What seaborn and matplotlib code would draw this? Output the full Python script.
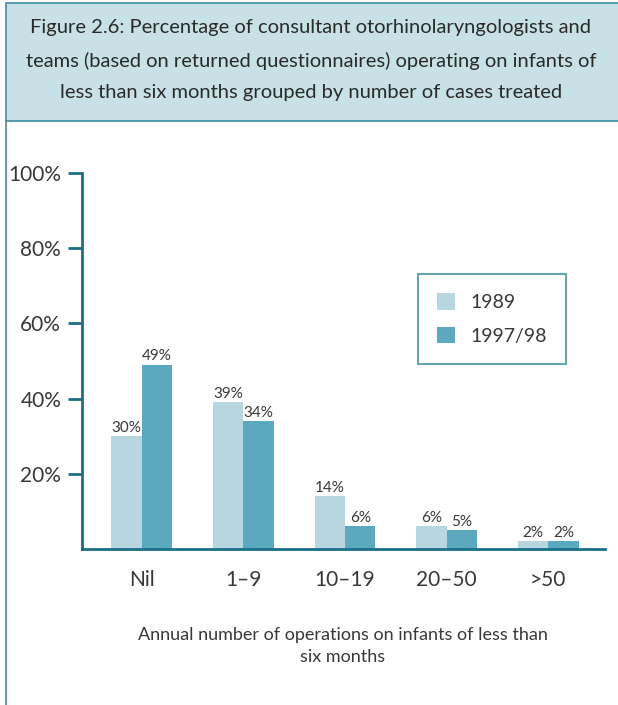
import pandas as pd
import matplotlib
matplotlib.use('Agg')
import matplotlib.pyplot as plt
import matplotlib.patches as mpatches
import seaborn as sns

categories = ['Nil', '1–9', '10–19', '20–50', '>50']
years = ['1989', '1997/98']
values_1989 = [30, 39, 14, 6, 2]
values_1997 = [49, 34, 6, 5, 2]
yticks = [20, 40, 60, 80, 100]
title = ('Figure 2.6: Percentage of consultant otorhinolaryngologists and\n'
         'teams (based on returned questionnaires) operating on infants of\n'
         'less than six months grouped by number of cases treated')
xlabel = 'Annual number of operations on infants of less than\nsix months'

df = pd.DataFrame({
    'category': categories * 2,
    'year': [years[0]] * len(categories) + [years[1]] * len(categories),
    'value': values_1989 + values_1997,
})

sns.set_theme(style='white')
plt.rcParams['font.family'] = ['Lato', 'DejaVu Sans']

teal = '#1b6f86'
text_col = '#383838'
palette = {'1989': '#b7d6e0', '1997/98': '#5ba8bf'}

W, H = 618, 705
fig = plt.figure(figsize=(W / 100, H / 100), dpi=100)

# frame: title box and left rule
fig.add_artist(mpatches.Rectangle((6 / W, (H - 121) / H), 1.0, 118 / H,
                                  transform=fig.transFigure, facecolor='#c8e1e7',
                                  edgecolor='#3f8fa4', linewidth=1.2))
fig.add_artist(plt.Line2D([6 / W, 6 / W], [0, (H - 121) / H], transform=fig.transFigure,
                          color='#3f8fa4', linewidth=1.2))
fig.text(311 / W, (H - 60) / H, title, ha='center', va='center', fontsize=14.5,
         color='#2a2a2a', linespacing=2.0)

ax = fig.add_axes([82 / W, (H - 549) / H, (605 - 82) / W, (549 - 173) / H])
sns.barplot(data=df, x='category', y='value', hue='year', palette=palette,
            width=0.6, saturation=1, linewidth=0, ax=ax)

ax.set_ylim(0, 100)
ax.set_xlim(-0.59, 4.56)
ax.set_yticks(yticks)
ax.set_yticklabels([f'{v}%' for v in yticks])
ax.set_xlabel('')
ax.set_ylabel('')
for s in ['top', 'right']:
    ax.spines[s].set_visible(False)
for s in ['left', 'bottom']:
    ax.spines[s].set_color(teal)
    ax.spines[s].set_linewidth(2)
ax.tick_params(axis='y', length=10, width=2, color=teal, labelsize=15,
               labelcolor=text_col, pad=5, left=True)
ax.tick_params(axis='x', length=0, labelsize=15, labelcolor=text_col, pad=15)

for cont in ax.containers:
    ax.bar_label(cont, labels=[f'{v:.0f}%' for v in cont.datavalues],
                 fontsize=11, color=text_col, padding=1)

leg = ax.legend(loc='upper left', bbox_to_anchor=((418 - 82) / (605 - 82), (549 - 274) / (549 - 173)),
                frameon=True, fancybox=False, fontsize=14, handlelength=0.9, handleheight=0.9,
                borderpad=1.0, labelspacing=0.8, handletextpad=0.8, borderaxespad=0)
leg.get_frame().set_edgecolor('#3f8fa4')
leg.get_frame().set_linewidth(1.5)
for t in leg.get_texts():
    t.set_color(text_col)

fig.text(343 / W, (H - 646) / H, xlabel, ha='center', va='center', fontsize=13,
         color=text_col, linespacing=1.5)

fig.savefig('out.png', dpi=100)
